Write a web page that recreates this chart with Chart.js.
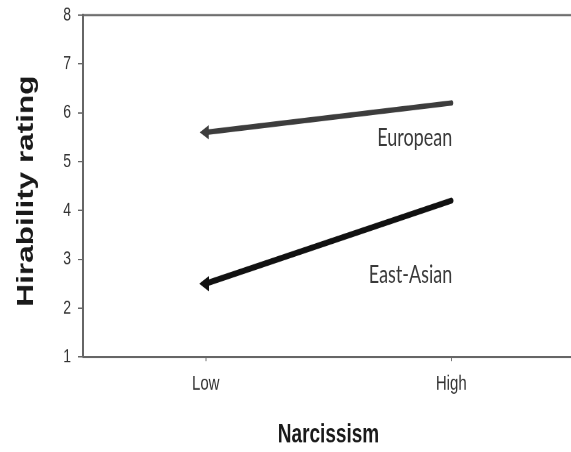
<!DOCTYPE html>
<html lang="en">
<head>
  <meta charset="utf-8">
  <title>Hirability rating by narcissism</title>
  <script src="https://cdn.jsdelivr.net/npm/chart.js@4.4.1/dist/chart.umd.min.js"></script>
  <style>
    html { overflow: hidden; }
    body { margin: 0; padding: 0; background: #fff; width: 571px; height: 452px; }
    /* the source figure is stretched vertically, so the whole chart is too */
    .wrap { width: 574px; height: 330px; transform: scaleY(1.3697); transform-origin: 0 0; }
  </style>
</head>
<body>
  <div class="wrap">
    <canvas id="chart" width="574" height="330"></canvas>
  </div>
  <script>
    // Data
    const categories = ['Low', 'High'];
    const european = [5.6, 6.2];
    const eastAsian = [2.5, 4.2];
    const yTicks = [1, 2, 3, 4, 5, 6, 7, 8];

    const seriesLabels = ['European', 'East-Asian'];

    // Text drawn on top: axis titles, series names, top frame line
    const annotations = {
      id: 'annotations',
      afterDraw(chart) {
        const { ctx, chartArea, scales } = chart;
        const x = scales.x, y = scales.y;
        ctx.save();

        // top frame line
        ctx.strokeStyle = '#666';
        ctx.lineWidth = 1.5;
        ctx.beginPath();
        ctx.moveTo(chartArea.left, chartArea.top);
        ctx.lineTo(chartArea.right, chartArea.top);
        ctx.stroke();

        // series names next to the lines
        ctx.fillStyle = '#3a3a3a';
        ctx.font = '18px Lato, "Open Sans", sans-serif';
        ctx.textAlign = 'right';
        ctx.textBaseline = 'middle';
        const right = x.getPixelForValue(1) + 1;
        ctx.fillText(seriesLabels[0], right, y.getPixelForValue(5.48));
        ctx.fillText(seriesLabels[1], right, y.getPixelForValue(2.68));

        // x title
        ctx.fillStyle = '#1a1a1a';
        ctx.font = 'bold 19px "Liberation Sans", Arial, sans-serif';
        ctx.textAlign = 'center';
        ctx.fillText('Narcissism', 328.5, 317.6);

        // y title
        ctx.translate(26.5, 139.5);
        ctx.rotate(-Math.PI / 2);
        ctx.font = 'bold 23px "Liberation Sans", Arial, sans-serif';
        ctx.fillText('Hirability rating', 0, 0);
        ctx.restore();
      }
    };

    new Chart(document.getElementById('chart'), {
      type: 'line',
      data: {
        labels: categories,
        datasets: [
          {
            label: seriesLabels[0],
            data: european,
            borderColor: '#3d3d3d',
            backgroundColor: '#3d3d3d',
            borderWidth: 4,
            borderCapStyle: 'round',
            pointStyle: 'triangle',
            rotation: -90,
            pointRadius: [2, 0],
            fill: false
          },
          {
            label: seriesLabels[1],
            data: eastAsian,
            borderColor: '#111',
            backgroundColor: '#111',
            borderWidth: 4.5,
            borderCapStyle: 'round',
            pointStyle: 'triangle',
            rotation: -90,
            pointRadius: [2, 0],
            fill: false
          }
        ]
      },
      options: {
        responsive: false,
        devicePixelRatio: 2,
        animation: false,
        layout: { autoPadding: false, padding: { top: 11, left: 0, right: 0, bottom: 0 } },
        plugins: {
          legend: { display: false },
          tooltip: { enabled: false }
        },
        scales: {
          x: {
            type: 'category',
            offset: true,
            afterFit(scale) {
              scale.height = 69.4;
              scale.paddingLeft = 0;
              scale.paddingRight = 0;
            },
            grid: { drawOnChartArea: false, tickLength: 3, color: '#777' },
            border: { color: '#666', width: 1.5 },
            ticks: {
              padding: 8,
              color: '#333',
              font: { family: '"Liberation Sans", Arial, sans-serif', size: 15 }
            }
          },
          y: {
            min: 1,
            max: 8,
            afterFit(scale) {
              scale.width = 83;
              scale.paddingTop = 0;
              scale.paddingBottom = 0;
            },
            afterBuildTicks(scale) { scale.ticks = yTicks.map(v => ({ value: v })); },
            grid: { drawOnChartArea: false, tickLength: 5, color: '#666' },
            border: { color: '#666', width: 2 },
            ticks: {
              padding: 7,
              color: '#333',
              font: { family: '"Liberation Sans", Arial, sans-serif', size: 14 }
            }
          }
        }
      },
      plugins: [annotations]
    });
  </script>
</body>
</html>
